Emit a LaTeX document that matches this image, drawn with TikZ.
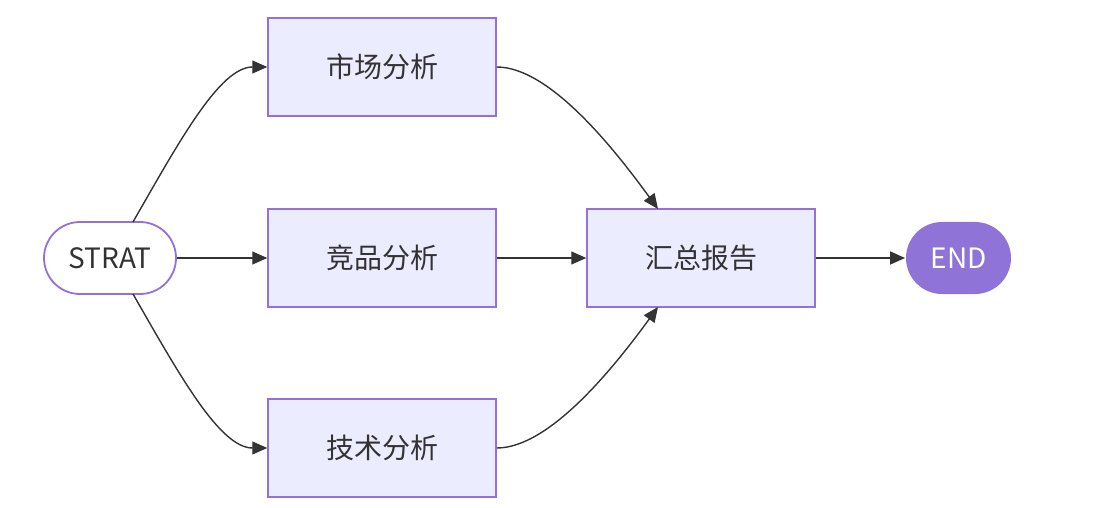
\documentclass[tikz,border=0pt]{standalone}
\usepackage{fontspec}
\setmainfont{Noto Sans CJK SC}
\usetikzlibrary{arrows.meta}
\definecolor{boxfill}{RGB}{236,236,255}
\definecolor{boxline}{RGB}{147,112,219}
\definecolor{endfill}{RGB}{143,115,214}
\definecolor{edge}{RGB}{51,51,51}
\definecolor{txt}{RGB}{51,51,51}
\tikzset{
  procbox/.style={draw=boxline, fill=boxfill, line width=1.5pt, minimum width=228pt, minimum height=98pt, inner sep=0pt, text=txt, font=\fontsize{28}{32}\selectfont},
  termnode/.style={line width=1.8pt, rounded corners=36pt, minimum width=132pt, minimum height=72pt, inner sep=0pt, font=\fontsize{28}{32}\selectfont},
  conn/.style={draw=edge, line width=1.4pt, -{Triangle[length=15pt,width=13pt]}}
}
\begin{document}
\begin{tikzpicture}[x=1pt,y=-1pt]
\useasboundingbox (0,0) rectangle (1096,508);
\node[termnode, draw=boxline, fill=white, text=txt] (start) at (110,258) {STRAT};
\node[procbox] (m) at (382,67) {市场分析};
\node[procbox] (c) at (382,258) {竞品分析};
\node[procbox] (t) at (382,448) {技术分析};
\node[procbox] (s) at (701,258) {汇总报告};
\node[termnode, minimum width=105pt, draw=none, fill=endfill, text=white] (end) at (958.5,258) {END};
\coordinate (stop) at (133,222);
\coordinate (sbot) at (133,294);
\coordinate (sumtop) at (658,209);
\coordinate (sumbot) at (658,307);
\draw[conn] (stop) .. controls (180,140) and (220,67) .. (m.west);
\draw[conn] (start.east) -- (c.west);
\draw[conn] (sbot) .. controls (180,376) and (220,448) .. (t.west);
\draw[conn] (m.east) .. controls (550,67) and (615,150) .. (sumtop);
\draw[conn] (c.east) -- (s.west);
\draw[conn] (t.east) .. controls (550,448) and (615,366) .. (sumbot);
\draw[conn] (s.east) -- (end.west);
\end{tikzpicture}
\end{document}
